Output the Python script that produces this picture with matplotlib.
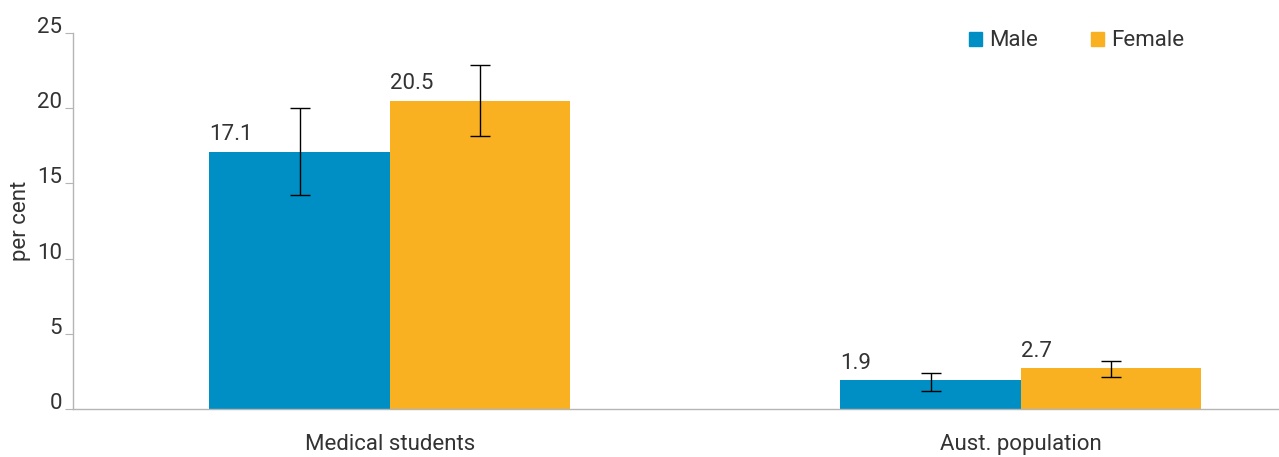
import matplotlib.pyplot as plt
import numpy as np

plt.rcParams['font.family'] = ['Roboto', 'DejaVu Sans']

groups = ['Medical students', 'Aust. population']
series = ['Male', 'Female']
male = [17.1, 1.9]
female = [20.5, 2.7]
male_lo = [14.2, 1.2]
male_hi = [20.0, 2.4]
female_lo = [18.15, 2.1]
female_hi = [22.9, 3.2]
colors = ['#008fc5', '#f9b122']
text_color = '#333333'
axis_color = '#b5b5b5'
fs = 16

fig = plt.figure(figsize=(12.79, 4.57), dpi=100)
ax = fig.add_axes([0.0571, 0.105, 0.9429, 0.8228])

x = np.arange(len(groups))
w = 0.286

for vals, lo, hi, off, c in [(male, male_lo, male_hi, -w / 2, colors[0]),
                             (female, female_lo, female_hi, w / 2, colors[1])]:
    xs = x + off
    ax.bar(xs, vals, width=w, color=c, zorder=2)
    yerr = [np.array(vals) - np.array(lo), np.array(hi) - np.array(vals)]
    ax.errorbar(xs, vals, yerr=yerr, fmt='none', ecolor='black', elinewidth=1,
                capsize=7, capthick=1, zorder=3)
    for xi, v in zip(xs, vals):
        ax.text(xi - w / 2, v + 0.45, f'{v}', ha='left', va='bottom',
                fontsize=fs, color=text_color)

ax.set_xlim(-0.502, 1.409)
ax.set_ylim(0, 25)
ax.set_yticks([0, 5, 10, 15, 20, 25])
ax.set_xticks(x)
ax.set_xticklabels(groups, fontsize=fs, color=text_color)
ax.tick_params(axis='x', length=0, pad=18)
ax.tick_params(axis='y', length=6, color=axis_color, labelsize=fs,
               labelcolor=text_color, pad=2)
for lab in ax.get_yticklabels():
    lab.set_va('baseline')

for s in ['top', 'right']:
    ax.spines[s].set_visible(False)
for s in ['left', 'bottom']:
    ax.spines[s].set_color(axis_color)
    ax.spines[s].set_linewidth(1)

ax.set_ylabel('per cent', fontsize=fs, color=text_color, labelpad=4)

handles = [plt.Rectangle((0, 0), 1, 1, color=c) for c in colors]
ax.legend(handles, series, loc='upper right', bbox_to_anchor=(0.938, 1.06),
          ncol=2, frameon=False, fontsize=fs, handlelength=0.6,
          handleheight=0.6, handletextpad=0.3, columnspacing=2.4,
          labelcolor=text_color)

fig.savefig('out.png', dpi=100)
